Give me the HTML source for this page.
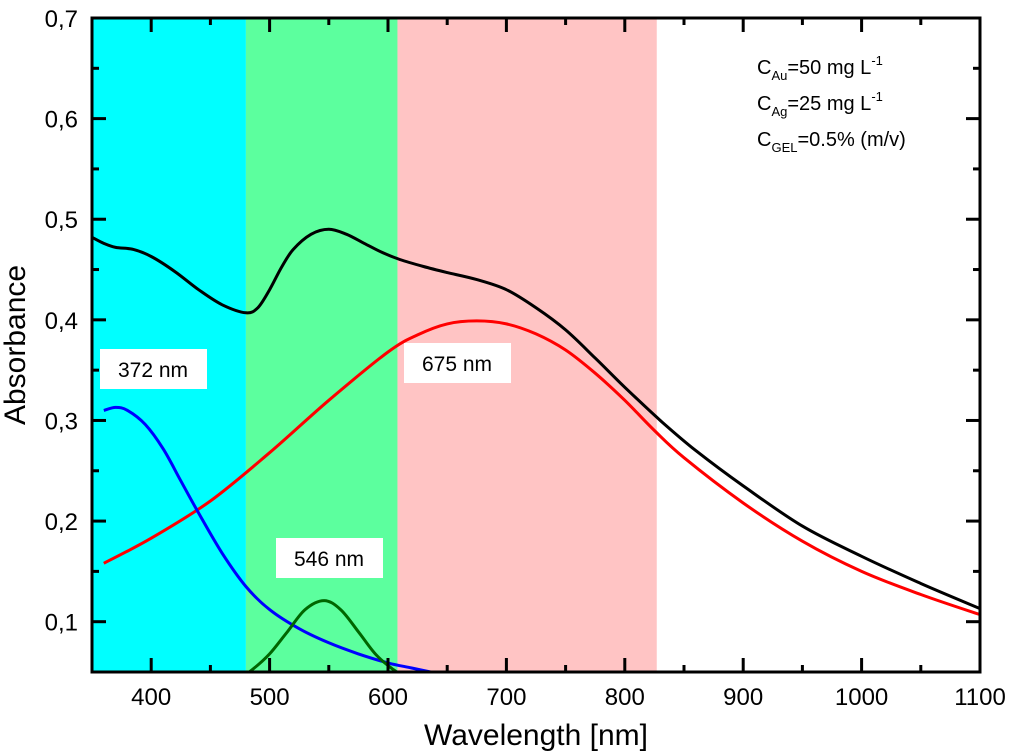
<!DOCTYPE html>
<html><head><meta charset="utf-8"><style>
body{margin:0;background:#fff;}
svg{display:block;font-family:"Liberation Sans",Arial,sans-serif;}
</style></head><body>
<svg id="c" width="1024" height="755">
<defs><clipPath id="clip"><rect x="92" y="18" width="888" height="654"/></clipPath></defs>
<g id="bands"></g>
<g id="series" clip-path="url(#clip)"></g>
<g id="labels"></g>
<g id="axes"></g>
<g font-size="20" fill="#000">
<text x="757" y="74">C<tspan font-size="13" dy="6">Au</tspan><tspan dy="-6">=50 mg L</tspan><tspan font-size="13" dy="-9">-1</tspan></text>
<text x="757" y="110">C<tspan font-size="13" dy="6">Ag</tspan><tspan dy="-6">=25 mg L</tspan><tspan font-size="13" dy="-9">-1</tspan></text>
<text x="757" y="146">C<tspan font-size="13" dy="6">GEL</tspan><tspan dy="-6">=0.5% (m/v)</tspan></text>
</g>
<text x="536" y="745" font-size="30" text-anchor="middle">Wavelength [nm]</text>
<text transform="translate(25,345) rotate(-90)" font-size="30" text-anchor="middle">Absorbance</text>
</svg>
<script>
const xTicks=[400,500,600,700,800,900,1000,1100];
const yTicks=[0.1,0.2,0.3,0.4,0.5,0.6,0.7];
const yTickLabels=["0,1","0,2","0,3","0,4","0,5","0,6","0,7"];
const bandStarts=[350,480,608];
const bandEnds=[480,608,827];
const bandColors=["#00ffff","#5cff9e","#ffc4c4"];
const blackX=[350,360,370,385,400,420,440,460,480,490,500,510,520,535,550,565,580,595,610,630,650,675,700,725,750,775,800,830,860,900,950,1000,1050,1100];
const blackY=[0.482,0.476,0.472,0.470,0.463,0.448,0.430,0.415,0.407,0.412,0.430,0.452,0.470,0.485,0.490,0.485,0.476,0.467,0.460,0.453,0.447,0.440,0.430,0.412,0.390,0.362,0.333,0.300,0.270,0.235,0.195,0.165,0.138,0.113];
const redX=[360,400,450,500,550,600,625,650,675,700,725,750,775,800,825,850,900,950,1000,1050,1100];
const redY=[0.158,0.183,0.220,0.268,0.320,0.368,0.385,0.396,0.399,0.396,0.386,0.370,0.347,0.320,0.290,0.263,0.218,0.180,0.150,0.127,0.107];
const blueX=[360,370,380,395,410,425,440,460,480,500,525,550,575,600,620,640];
const blueY=[0.310,0.313,0.310,0.296,0.272,0.240,0.208,0.168,0.135,0.112,0.093,0.079,0.068,0.059,0.054,0.049];
const greenX=[470,485,500,515,530,546,560,575,590,605,620];
const greenY=[0.040,0.052,0.068,0.090,0.112,0.121,0.112,0.090,0.067,0.052,0.040];
const peakNames=["372 nm","675 nm","546 nm"];
const peakBoxX=[100,404,276];
const peakBoxY=[349,343,538];
const NS="http://www.w3.org/2000/svg";
const X0=92,X1=980,Y0=672,Y1=18;
function sx(v){return X0+(v-350)/(1100-350)*(X1-X0);}
function sy(v){return Y0-(v-0.05)/(0.7-0.05)*(Y0-Y1);}
function mk(t,a,p){const e=document.createElementNS(NS,t);for(const k in a)e.setAttribute(k,a[k]);p.appendChild(e);return e;}
const bands=document.getElementById('bands');
for(let i=0;i<bandStarts.length;i++){
 const r=mk('rect',{x:sx(bandStarts[i]),y:Y1,width:sx(bandEnds[i])-sx(bandStarts[i]),height:Y0-Y1,fill:bandColors[i]},bands);
 
 
}
const series=document.getElementById('series');
function line(xs,ys,col,name){
 const P=xs.map((x,i)=>[sx(x),sy(ys[i])]);
 let d='M'+P[0][0].toFixed(1)+','+P[0][1].toFixed(1);
 for(let i=0;i<P.length-1;i++){
  const p0=P[Math.max(0,i-1)],p1=P[i],p2=P[i+1],p3=P[Math.min(P.length-1,i+2)];
  const c1=[p1[0]+(p2[0]-p0[0])/6,p1[1]+(p2[1]-p0[1])/6];
  const c2=[p2[0]-(p3[0]-p1[0])/6,p2[1]-(p3[1]-p1[1])/6];
  d+='C'+c1.map(v=>v.toFixed(1)).join(',')+' '+c2.map(v=>v.toFixed(1)).join(',')+' '+p2.map(v=>v.toFixed(1)).join(',');
 }
 const p=mk('path',{d:d,fill:'none',stroke:col,'stroke-width':3,'stroke-linejoin':'round'},series);
 
 
}
line(redX,redY,'#ff0000','red-fit-curve');
line(blueX,blueY,'#0000ff','blue-fit-curve');
line(greenX,greenY,'#006600','green-fit-curve');
line(blackX,blackY,'#000000','measured-spectrum');
const labels=document.getElementById('labels');
for(let i=0;i<peakNames.length;i++){
 const g=mk('g',{},labels);
 
 
 mk('rect',{x:peakBoxX[i],y:peakBoxY[i],width:107,height:40,fill:'#fff'},g);
 const t=mk('text',{x:peakBoxX[i]+53,y:peakBoxY[i]+28,'font-size':21,'text-anchor':'middle'},g);
 t.textContent=peakNames[i];
}
const axes=document.getElementById('axes');
mk('rect',{x:X0,y:Y1,width:X1-X0,height:Y0-Y1,fill:'none',stroke:'#000','stroke-width':3},axes);
for(let v=350;v<=1100;v+=50){
 const maj=v%100===0;const L=maj?14:7;
 mk('line',{x1:sx(v),x2:sx(v),y1:Y0,y2:Y0-L,stroke:'#000','stroke-width':3},axes);
 mk('line',{x1:sx(v),x2:sx(v),y1:Y1,y2:Y1+L,stroke:'#000','stroke-width':3},axes);
}
xTicks.forEach(v=>{
 const t=mk('text',{x:sx(v),y:705,'font-size':24,'text-anchor':'middle'},axes);
 
 
 t.textContent=v;
});
for(let k=1;k<=14;k++){
 const v=0.05*k;const maj=k%2===0;const L=maj?14:7;
 if(v<0.05||v>0.7001)continue;
 mk('line',{x1:X0,x2:X0+L,y1:sy(v),y2:sy(v),stroke:'#000','stroke-width':3},axes);
 mk('line',{x1:X1,x2:X1-L,y1:sy(v),y2:sy(v),stroke:'#000','stroke-width':3},axes);
}
yTicks.forEach((v,i)=>{
 const t=mk('text',{x:78,y:sy(v)+9,'font-size':24,'text-anchor':'end'},axes);
 
 
 t.textContent=yTickLabels[i];
});
</script>
</body></html>
